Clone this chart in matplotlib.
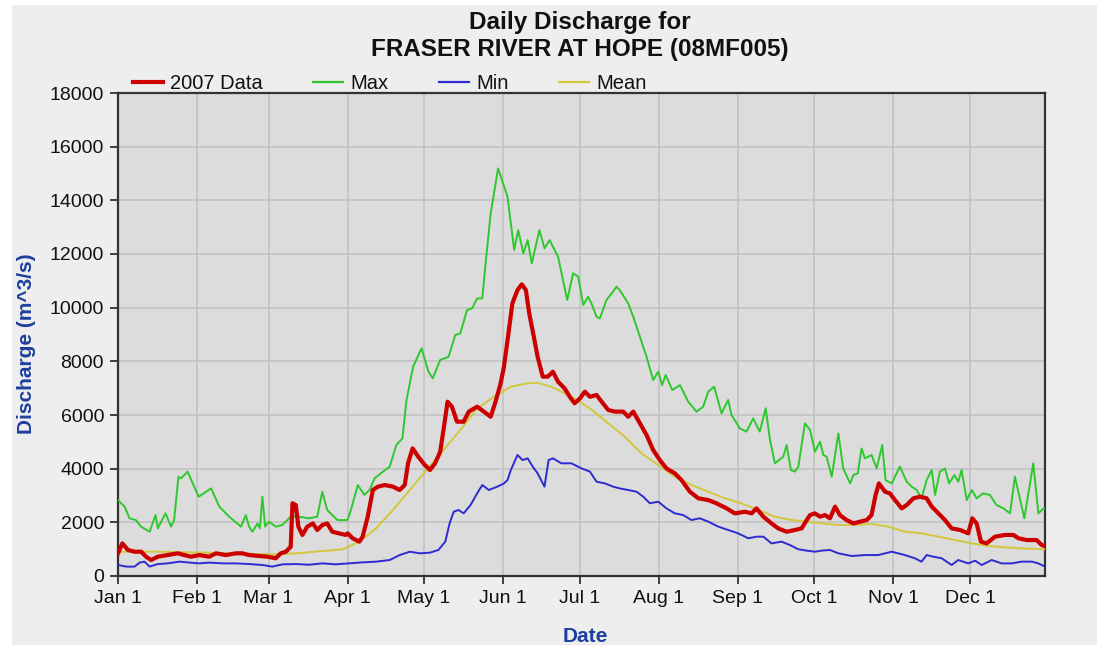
import matplotlib
matplotlib.use("Agg")
import matplotlib.pyplot as plt
from matplotlib.lines import Line2D
from matplotlib.patches import Rectangle

plt.rcParams['font.family'] = ['Liberation Sans', 'DejaVu Sans']

# ---------------- data (day of year, discharge m^3/s) ----------------
month_days = [0, 31, 59, 90, 120, 151, 181, 212, 243, 273, 304, 334]
month_labels = ["Jan 1", "Feb 1", "Mar 1", "Apr 1", "May 1", "Jun 1",
                "Jul 1", "Aug 1", "Sep 1", "Oct 1", "Nov 1", "Dec 1"]
y_ticks = [0, 2000, 4000, 6000, 8000, 10000, 12000, 14000, 16000, 18000]

max_days = [0, 2.6, 4.5, 7, 9, 12.4, 14.7, 15.6, 18.6, 20.8,
            22, 23.7, 24.7, 27.3, 31.6, 36.5, 39.7, 43.6, 48.2, 50.1,
            51.4, 52.7, 54.7, 55.6, 56.6, 57.7, 59.2, 61.8, 64.4, 67.7,
            70.9, 74.9, 78.1, 80.1, 82, 86, 90,
            91.3, 94, 96.6, 98.6, 100.6, 103.9, 106.5, 109.1, 111.5, 113.1,
            115.7, 119, 121.7, 123.4, 126.3, 129.6, 132.2, 134.2, 136.8, 138.8,
            140.8, 142.8, 144.1, 146.1, 149, 152.7, 155.3, 156.9, 158.9, 160.6,
            162.2, 165.2, 167.2, 169.2, 172.5, 176.1, 178.4, 180.4,
            182.4, 184.3, 185.6, 187.6, 188.9, 191.5, 193.5, 195.4, 196.7, 200,
            202, 204.6, 207.2, 209.8, 211.8, 213.3, 214.7, 217.3, 220.3, 223.5,
            226.8, 229.4, 231.4, 233.7, 236.6, 239.2, 240.5, 243.8, 246.4, 249,
            251.6, 253.9, 255.6, 257.5, 260.8, 262.1, 263.8, 265.4, 266.7, 269.3,
            271.3, 273.2,
            275.2, 276.5, 277.8, 279.8, 282.4, 284.3, 287, 288.3, 290, 291.5,
            292.8, 295.4, 297.4, 299.6, 300.9, 303.3, 306.5, 309.2, 311.1, 313.1,
            315, 317, 319, 320.3, 322.2, 324.2, 325.8, 327.9, 329.4, 330.7,
            332.7, 334.7, 336.6, 339.2, 341.8, 344.4, 347.1, 349.7, 351.6, 355.3,
            358.8, 360.8, 362.8, 364]
max_vals = [2830, 2585, 2150, 2085, 1840, 1650, 2270, 1775, 2335, 1840,
            2085, 3700, 3640, 3890, 2955, 3265, 2585, 2210, 1840, 2270,
            1840, 1650, 1960, 1775, 2955, 1840, 2025, 1840, 1900, 2210,
            2210, 2150, 2210, 3140, 2460, 2085, 2085,
            2460, 3390, 3020, 3205, 3640, 3890, 4075, 4880, 5130, 6560,
            7800, 8485, 7615, 7365, 8050, 8170, 8980, 9040, 9910, 9975,
            10345, 10345, 11650, 13515, 15190, 14135, 12150, 12890, 12020, 12520,
            11650, 12890, 12210, 12520, 11900, 10285, 11280, 11155,
            10100, 10410, 10160, 9660, 9600, 10285, 10530, 10780, 10655, 10160,
            9660, 8920, 8170, 7300, 7615, 7115, 7490, 6930, 7115, 6500,
            6125, 6310, 6870, 7055, 6060, 6560, 6000, 5500, 5380, 5875,
            5380, 6250, 5070, 4200, 4445, 4880, 3950, 3890, 4075, 5690,
            5440, 4630,
            5005, 4510, 4445, 3700, 5315, 4010, 3450, 3765, 3825, 4755,
            4385, 4510, 4010, 4880, 3575, 3450, 4075, 3515, 3330, 3205,
            2895, 3575, 3950, 3020, 3890, 4010, 3450, 3765, 3515, 3950,
            2830, 3205, 2895, 3080, 3020, 2645, 2520, 2335, 3700, 2150,
            4200, 2335, 2520, 2500]

data_days = [0, 1.7, 3.9, 6.5, 9.1, 11, 13, 15.6, 19.5, 23.4,
             26, 28.6, 31.9, 35.8, 38.4, 42.3, 46.2, 48.8, 51.4, 55.3,
             58.6, 61.8, 63.8, 65.8, 67.7, 68.4, 69.7, 70.7, 72.3, 74.2,
             76.4, 78.1, 80.1, 82, 84, 86.6, 89.2,
             90, 92, 94.6, 95.9, 97.9, 99.9, 101.9, 104.5, 107.8, 110.4,
             112.4, 113.7, 115.5, 117.7, 120.3, 122.3, 124.3, 126.3, 127.6, 129.2,
             130.9, 132.9, 135.5, 137.5, 140.8, 143.4, 146.1, 148, 150, 151.3,
             152.9, 154.6, 156.6, 158.3, 159.9, 161.2, 163, 164.5, 166.5, 168.5,
             170.5, 172.5, 175.1, 177.1, 179,
             181.1, 183, 185, 187.6, 189.6, 192.2, 194.8, 198.1, 200, 202,
             204.6, 207.2, 209.8, 212.4, 215, 218.3, 220.9, 224.2, 227.5, 231.4,
             234.6, 238.6, 241.8, 245.8, 248.4, 250.3, 253, 256.2, 258.8, 262.1,
             265.4, 268,
             270, 271.3, 273.2, 275.2, 277.1, 279.1, 281.1, 283, 285.6, 288.3,
             290.9, 293.5, 295.4, 297, 298.3, 300.7, 302.6, 304.6, 307.2, 309.2,
             311.8, 314.4, 317, 319, 321.6, 324.2, 326.8, 330.1, 333.3, 334.9,
             336.6, 338.3, 340.5, 343.8, 347.7, 351, 353, 356.2, 360.1, 362.1,
             364]
data_vals = [845, 1215, 970, 905, 905, 720, 595, 720, 780, 845,
             780, 720, 780, 720, 845, 780, 845, 845, 780, 745,
             720, 660, 845, 905, 1090, 2710, 2645, 1840, 1530, 1840,
             1960, 1715, 1900, 1960, 1650, 1590, 1530,
             1590, 1405, 1280, 1465, 2210, 3205, 3330, 3390, 3330, 3205,
             3390, 4200, 4755, 4445, 4135, 3950, 4200, 4630, 5440, 6495,
             6310, 5750, 5750, 6125, 6310, 6125, 5935, 6495, 7180, 7800,
             8920, 10160, 10655, 10870, 10655, 9790, 8920, 8170, 7430, 7430,
             7615, 7240, 6990, 6680, 6435,
             6620, 6870, 6680, 6745, 6495, 6185, 6125, 6125, 5935, 6125,
             5690, 5255, 4695, 4320, 4010, 3825, 3575, 3140, 2895, 2830,
             2710, 2520, 2335, 2395, 2335, 2520, 2210, 1960, 1775, 1650,
             1715, 1775,
             2085, 2270, 2335, 2210, 2270, 2150, 2585, 2270, 2085, 1960,
             2025, 2085, 2270, 3020, 3450, 3140, 3080, 2830, 2520, 2645,
             2895, 2955, 2895, 2585, 2335, 2085, 1775, 1715, 1590, 2150,
             1960, 1280, 1215, 1465, 1530, 1530, 1405, 1340, 1340, 1155,
             1095]

mean_days = [0, 15, 30, 45, 60, 70, 80, 88, 94.6, 101.2,
             107.8, 114.4, 121, 127.6, 134.2, 140.8, 147.4, 154, 160.6, 164.5,
             169.8, 176.4, 181, 185.6, 192.2, 198.7, 205.2, 211.8, 218.3, 224.8,
             231.4, 237.9, 244.4, 251, 257.5, 264.1, 270.6, 275.8, 282.4, 288.9,
             295.4, 302, 308.5, 315, 321.6, 328.1, 334.7, 341.2, 347.7, 354.3,
             364]
mean_vals = [905, 905, 880, 845, 805, 845, 930, 990, 1280, 1775,
             2460, 3205, 3950, 4695, 5440, 6245, 6680, 7055, 7180, 7200,
             7055, 6745, 6500, 6200, 5690, 5190, 4570, 4135, 3700, 3390,
             3140, 2895, 2710, 2460, 2210, 2085, 2025, 1960, 1900, 1900,
             1940, 1840, 1650, 1590, 1465, 1340, 1215, 1120, 1070, 1030,
             995]

min_days = [0, 3.3, 6.5, 8.5, 10.4, 12.4, 15.6, 19.5, 24.1, 28,
            31.9, 35.8, 41, 46.2, 51.4, 56.6, 60.5, 64.5, 69.7, 74.9,
            80.1, 85.3, 90.5, 94.6, 101.2, 106.5, 110.4, 114.4, 118.4, 122.3,
            125.6, 128.3, 130, 131.6, 133.5, 135.5, 138.2, 140.8, 142.8, 145.4,
            148.7, 151.3, 152.7, 154, 156.6, 158.6, 160.6, 162.6, 164.5, 167.2,
            168.8, 170.5, 173.8, 177.7, 181.7, 185, 187.6, 190.9, 194.1, 196.7,
            200, 203.3, 205.9, 208.5, 211.8, 215, 218.3, 221.6, 224.8, 228.1,
            231.4, 235.3, 239.2, 243.1, 247.1, 250.3, 253, 256.2, 260.1, 263.4,
            266.7, 270, 273.2, 275.8, 279.1, 282.4, 287.6, 292.8, 298, 303.3,
            308.5, 312.4, 315, 317, 319.6, 322.9, 326.8, 329.4, 333.3, 336,
            338.6, 342.5, 346.4, 350.3, 354.3, 358.2, 360.8, 363.4]
min_vals = [410, 350, 350, 500, 535, 350, 445, 470, 535, 500,
            470, 500, 470, 470, 445, 410, 350, 435, 445, 420,
            470, 435, 470, 500, 535, 595, 780, 905, 845, 870,
            970, 1280, 1960, 2395, 2460, 2335, 2645, 3080, 3390, 3205,
            3330, 3450, 3575, 3950, 4510, 4320, 4385, 4075, 3825, 3330,
            4320, 4385, 4200, 4200, 4010, 3890, 3515, 3450, 3330, 3265,
            3205, 3140, 2955, 2710, 2770, 2520, 2335, 2270, 2085, 2150,
            2025, 1840, 1715, 1590, 1405, 1465, 1465, 1215, 1280, 1155,
            995, 945, 905, 945, 970, 845, 745, 780, 780, 905,
            780, 660, 535, 780, 720, 660, 410, 595, 470, 570,
            410, 595, 470, 470, 535, 535, 470, 350]

# ---------------- styling ----------------
c_red = '#cc0000'
c_green = '#2ec82e'
c_blue = '#2b2bd0'
c_yellow = '#d2c83a'
c_label = '#1f3f9f'

W, H = 1117, 649
fig = plt.figure(figsize=(W / 100, H / 100), dpi=100, facecolor='white')
fig.add_artist(Rectangle((12 / W, 4 / H), 1085 / W, 640 / H,
                         transform=fig.transFigure, facecolor='#eeeeee',
                         edgecolor='none', zorder=-10))

ax = fig.add_axes([118 / W, 1 - 576 / H, 927 / W, 483 / H])
ax.set_facecolor('#dcdcdc')

ax.plot(max_days, max_vals, color=c_green, lw=1.4, zorder=3)
ax.plot(min_days, min_vals, color=c_blue, lw=1.4, zorder=3)
ax.plot(mean_days, mean_vals, color=c_yellow, lw=1.4, zorder=4)
ax.plot(data_days, data_vals, color=c_red, lw=3.0, zorder=5)

ax.set_xlim(0, 363.4)
ax.set_ylim(0, 18000)
ax.set_xticks(month_days)
ax.set_xticklabels(month_labels)
ax.set_yticks(y_ticks)
ax.set_yticklabels([str(v) for v in y_ticks])
ax.grid(True, color='#c2c2c2', lw=1.2)
ax.set_axisbelow(True)
ax.tick_params(axis='both', direction='out', length=6, width=1.2,
               color='#222222', labelsize=14, labelcolor='#111111', pad=4)
for s in ax.spines.values():
    s.set_color('#333333')
    s.set_linewidth(1.6)

ax.set_ylabel('Discharge (m^3/s)', color=c_label, fontsize=15, fontweight='bold')
ax.yaxis.set_label_coords(-0.088, 0.48)
ax.set_xlabel('Date', color=c_label, fontsize=15, fontweight='bold')
ax.xaxis.set_label_coords(0.504, -0.106)

fig.text(580 / W, 1 - 36 / H, "Daily Discharge for\nFRASER RIVER AT HOPE (08MF005)",
         ha='center', va='center', fontsize=17.5, fontweight='bold',
         linespacing=1.2, color='#111111')

handles = [Line2D([], [], color=c_red, lw=3.0),
           Line2D([], [], color=c_green, lw=1.6),
           Line2D([], [], color=c_blue, lw=1.6),
           Line2D([], [], color=c_yellow, lw=1.6)]
ax.legend(handles, ['2007 Data', 'Max', 'Min', 'Mean'], ncol=4,
          loc='lower left', bbox_to_anchor=(0.016, 1.0), frameon=False,
          borderpad=0, borderaxespad=0, fontsize=14.5, handlelength=1.5,
          handletextpad=0.35, columnspacing=2.5, labelcolor='#111111')

fig.savefig('out.png', dpi=100, facecolor='white')
